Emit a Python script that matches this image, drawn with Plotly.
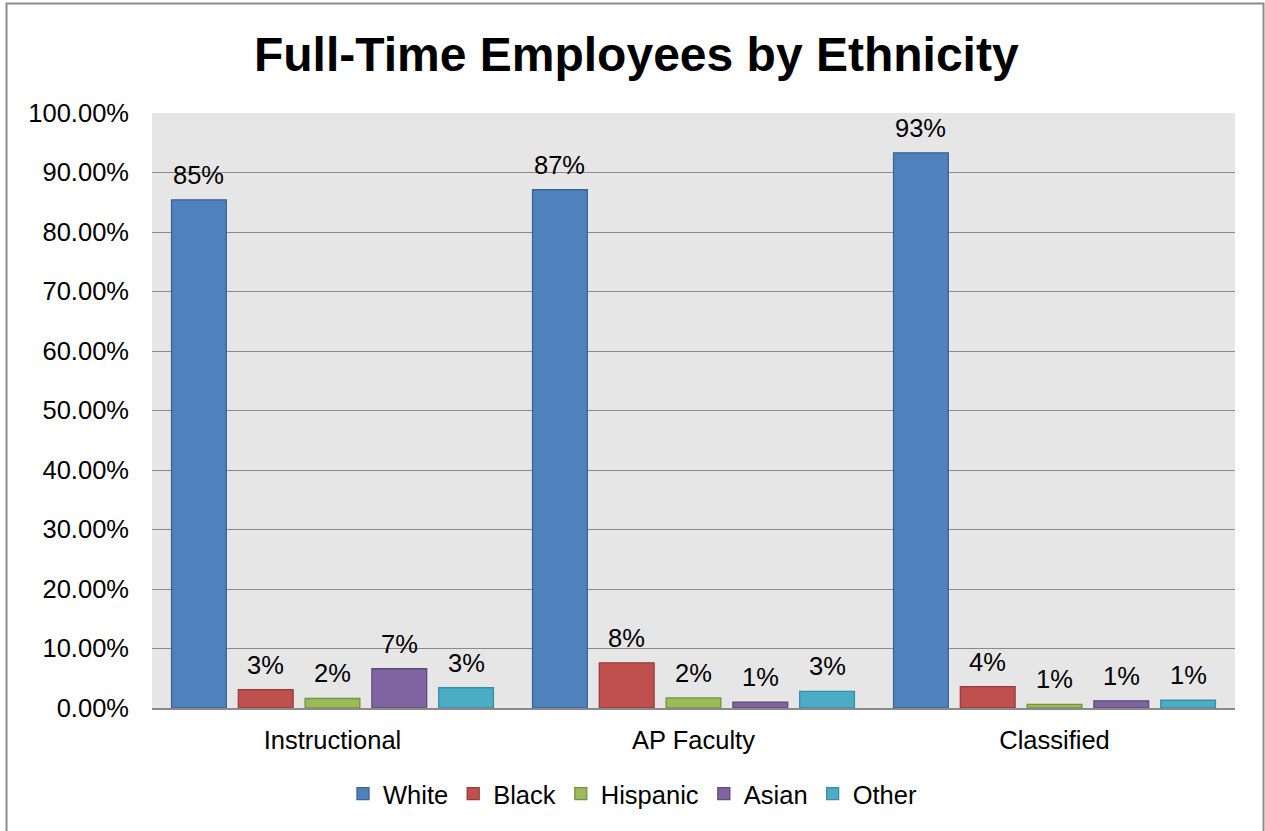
import plotly.graph_objects as go

categories = ["Instructional", "AP Faculty", "Classified"]
series_names = ["White", "Black", "Hispanic", "Asian", "Other"]
white = [0.854, 0.871, 0.933]
black = [0.031, 0.076, 0.036]
hispanic = [0.016, 0.017, 0.006]
asian = [0.066, 0.010, 0.012]
other = [0.034, 0.028, 0.013]
series_values = [white, black, hispanic, asian, other]

fill_colors = ["#4F81BD", "#C0504D", "#9BBB59", "#8064A2", "#4BACC6"]
line_colors = ["#3A6496", "#953E3B", "#779044", "#5F4B7A", "#3A8DA3"]

FONT = "Liberation Sans, Arial, sans-serif"
W, H = 1265, 831
ML, MR, MT, MB = 152, 30, 113, 123
PW, PH = W - ML - MR, H - MT - MB
BARGAP = 0.075
BARGROUPGAP = 0.18

fig = go.Figure()
for name, vals, fc, lc in zip(series_names, series_values, fill_colors, line_colors):
    fig.add_trace(go.Bar(
        name=name, x=categories, y=vals,
        marker=dict(color=fc, line=dict(color=lc, width=1.3)),
    ))

# data labels above each bar, positioned on the category axis
n_series = len(series_names)
slot = (1 - BARGAP) / n_series
annotations = []
for si, vals in enumerate(series_values):
    for ci, v in enumerate(vals):
        annotations.append(dict(
            x=ci + (si - (n_series - 1) / 2) * slot, y=v,
            xref="x", yref="y", text=f"{round(v * 100)}%",
            showarrow=False, xanchor="center", yanchor="bottom", yshift=9,
            font=dict(family=FONT, size=25.5, color="#000000"),
        ))

def px_to_paper_x(px):
    return (px - ML) / PW

def px_to_paper_y(py):
    return (H - MB - py) / PH

fig.update_layout(
    width=W, height=H,
    margin=dict(l=ML, r=MR, t=MT, b=MB),
    paper_bgcolor="#FFFFFF",
    plot_bgcolor="#E6E6E6",
    barmode="group",
    bargap=BARGAP,
    bargroupgap=BARGROUPGAP,
    font=dict(family=FONT, size=25.5, color="#000000"),
    title=dict(text="<b>Full-Time Employees by Ethnicity</b>",
               font=dict(family=FONT, size=48, color="#000000"),
               x=0.503, xanchor="center", y=1 - 54 / H, yanchor="middle"),
    showlegend=True,
    legend=dict(orientation="h", x=px_to_paper_x(343), xanchor="left",
                y=px_to_paper_y(794), yanchor="middle",
                font=dict(family=FONT, size=25.5, color="#000000"),
                bgcolor="rgba(0,0,0,0)", traceorder="normal"),
    xaxis=dict(showgrid=False, showline=True, linecolor="#8A8A8A", linewidth=1.5,
               ticks="", ticklabelstandoff=9,
               tickfont=dict(family=FONT, size=25.5, color="#000000")),
    yaxis=dict(range=[0, 1.0], dtick=0.1, tickformat=".2%",
               showgrid=True, gridcolor="#8A8A8A", gridwidth=1.3,
               zeroline=False, showline=False, ticks="", ticklabelstandoff=22,
               tickfont=dict(family=FONT, size=25.5, color="#000000")),
    annotations=annotations,
    shapes=[dict(type="rect", xref="paper", yref="paper",
                 x0=px_to_paper_x(6.5), x1=px_to_paper_x(1263.5),
                 y0=px_to_paper_y(845), y1=px_to_paper_y(3.5),
                 line=dict(color="#8C8C8C", width=2), fillcolor="rgba(0,0,0,0)",
                 layer="above")],
)

fig.write_html("out.html",
               config={"displayModeBar": False},
               post_script="document.body.style.margin='0';document.body.style.overflow='hidden';")
